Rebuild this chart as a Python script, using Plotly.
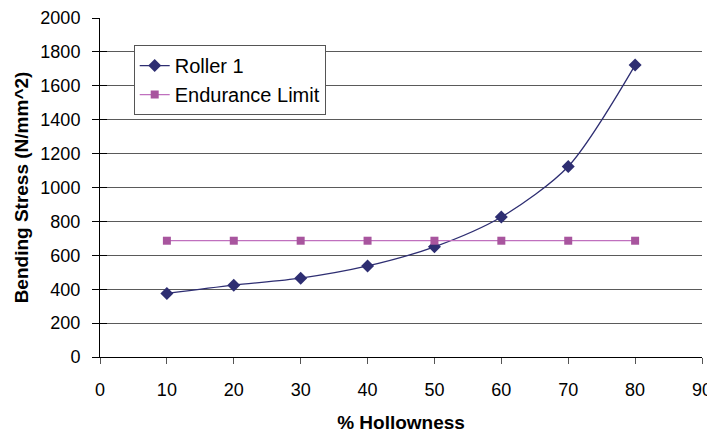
import plotly.graph_objects as go

hollowness = [10, 20, 30, 40, 50, 60, 70, 80]
roller_1 = [375, 424, 465, 537, 650, 826, 1124, 1722]
endurance_limit = [686, 686, 686, 686, 686, 686, 686, 686]

fig = go.Figure()
fig.add_trace(go.Scatter(
    x=hollowness, y=roller_1, name="Roller 1",
    mode="lines+markers", line=dict(color="#2E2E72", width=1.3, shape="spline", smoothing=0.8),
    marker=dict(symbol="diamond", size=10, color="#2E2E72"),
))
fig.add_trace(go.Scatter(
    x=hollowness, y=endurance_limit, name="Endurance Limit",
    yaxis="y2",
    mode="lines+markers", line=dict(color="#C070BE", width=1.3),
    marker=dict(symbol="square", size=8, color="#A8559E"),
))

axis_font = dict(family="Liberation Sans, Arial", size=18, color="black")

# page body has an 8px default margin, so the figure is sized to fit inside it
fig.update_layout(
    width=707, height=429,
    margin=dict(l=92, r=13, t=10, b=80),
    plot_bgcolor="white", paper_bgcolor="white",
    font=dict(family="Liberation Sans, Arial", size=18, color="black"),
    showlegend=True,
    legend=dict(
        x=0.056, y=0.92, xanchor="left", yanchor="top",
        bgcolor="white", bordercolor="#555555", borderwidth=1,
        font=dict(size=20), tracegroupgap=0,
    ),
    xaxis=dict(
        range=[0, 90], dtick=10, tick0=0, automargin=False,
        showgrid=False, zeroline=False,
        showline=True, linecolor="black", linewidth=1,
        ticks="outside", ticklen=6, tickcolor="#555555",
        tickfont=axis_font, ticklabelstandoff=10,
        title=dict(text="<b>% Hollowness</b>", font=dict(size=19), standoff=17),
    ),
    yaxis=dict(
        range=[0, 2000], dtick=200, tick0=0, automargin=False,
        showgrid=True, gridcolor="#5a5a5a", gridwidth=1, zeroline=False,
        showline=True, linecolor="black", linewidth=1,
        ticks="outside", ticklen=7, tickcolor="black",
        tickfont=axis_font, ticklabelstandoff=8,
        title=dict(text="<b>Bending Stress (N/mm^2)</b>", font=dict(size=19), standoff=6),
    ),
    yaxis2=dict(
        range=[0, 2000], dtick=200, tick0=0, overlaying="y", side="left",
        automargin=False,
        showgrid=False, zeroline=False, showline=False, showticklabels=False,
        ticks="inside", ticklen=7, tickcolor="black",
    ),
)

fig.write_html("out.html")
